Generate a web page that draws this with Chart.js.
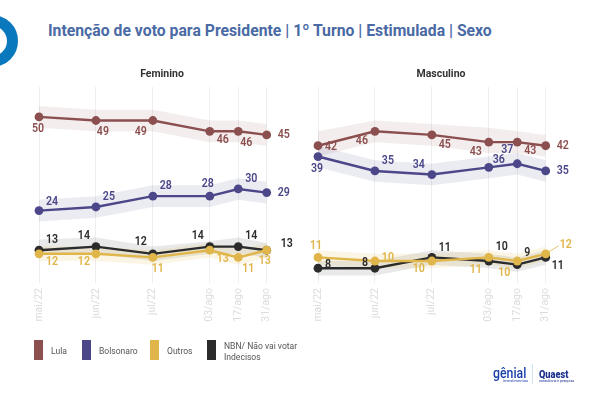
<!DOCTYPE html>
<html lang="pt-BR">
<head>
<meta charset="utf-8">
<title>Intenção de voto</title>
<script src="https://cdn.jsdelivr.net/npm/chart.js@4"></script>
<style>
  html, body { margin: 0; padding: 0; background: #fff; }
  body { position: relative; width: 600px; height: 400px; overflow: hidden; font-family: Roboto, sans-serif; }
  .abs { position: absolute; white-space: nowrap; transform-origin: left center; }
  canvas { position: absolute; }
  #ring { left: -34px; top: 15px; width: 30px; height: 30px; border: 11px solid #0a78bd; border-radius: 50%; }
  #title { left: 48px; top: 20px; font-size: 17px; line-height: 20px; font-weight: 700; color: #4a6aa5; transform: scaleX(0.927); }
  .swatch { position: absolute; top: 340px; width: 9px; height: 20px; }
  .legend { position: absolute; font-size: 9.5px; line-height: 11px; color: #555; white-space: nowrap; transform: scaleX(0.9); transform-origin: left center; }
</style>
</head>
<body>
<div id="ring" class="abs"></div>
<div id="title" class="abs">Intenção de voto para Presidente | 1º Turno | Estimulada | Sexo</div>
<canvas id="fem"></canvas>
<canvas id="mas"></canvas>
<div id="legendBox"></div>
<div class="abs" style="left:493px;top:365px;font-size:15px;line-height:16px;font-weight:500;color:#1d3fa8;transform:scaleX(0.82);">gênial</div>
<div class="abs" style="left:503px;top:378px;font-size:4px;line-height:5px;color:#1d3fa8;">investimentos</div>
<div class="abs" style="left:532px;top:364px;width:1px;height:20px;background:#cfe6f5;"></div>
<div class="abs" style="left:539px;top:366px;font-size:11.5px;line-height:16px;font-weight:900;color:#1b2f8f;transform:scaleX(0.8);">Quaest</div>
<div class="abs" style="left:539px;top:379px;font-size:3.5px;line-height:4px;color:#1b2f8f;">consultoria e pesquisa</div>

<script>
// ====== Data ======
const pollLabels = ["mai/22", "jun/22", "jul/22", "03/ago", "17/ago", "31/ago"];
const pollDays = [0, 28, 56, 84, 98, 112]; // days since the first poll

const seriesNames = ["Lula", "Bolsonaro", "Outros", "NBN/ Não vai votar\nIndecisos"];

// Feminino
const lulaFem = [50, 49, 49, 46, 46, 45];
const lulaFemHigh = [53, 52, 52, 49, 49, 48];
const lulaFemLow = [47, 46, 46, 43, 43, 42];
const bolsoFem = [24, 25, 28, 28, 30, 29];
const bolsoFemHigh = [27, 28, 31, 31, 33, 32];
const bolsoFemLow = [21, 22, 25, 25, 27, 26];
const outrosFem = [12, 12, 11, 13, 11, 13];
const outrosFemHigh = [14, 14, 13, 15, 13, 15];
const outrosFemLow = [10, 10, 9, 11, 9, 11];
const nbnFem = [13, 14, 12, 14, 14, 13];
const nbnFemHigh = [16, 16.5, 14, 15.5, 16.5, 15];
const nbnFemLow = [12, 12, 10, 12, 12, 11];

// Masculino
const lulaMas = [42, 46, 45, 43, 43, 42];
const lulaMasHigh = [46, 49, 48, 47, 46, 45];
const lulaMasLow = [39, 43, 42, 40, 40, 39];
const bolsoMas = [39, 35, 34, 36, 37, 35];
const bolsoMasHigh = [42, 38, 37, 39, 40, 38];
const bolsoMasLow = [36, 32, 31, 33, 34, 32];
const outrosMas = [11, 10, 10, 11, 10, 12];
const outrosMasHigh = [13, 12, 12, 13, 12, 14];
const outrosMasLow = [9, 8, 8, 9, 8, 10];
const nbnMas = [8, 8, 11, 10, 9, 11];
const nbnMasHigh = [10, 10, 13, 12, 11, 13];
const nbnMasLow = [6, 6, 9, 8, 7, 9];

// ====== Styles ======
const colors = { lula: "#8c4f4f", bolso: "#4b4789", outros: "#e0b64a", nbn: "#2b2b2b" };
const bands = {
  lula: "rgba(140,79,79,0.10)",
  bolso: "rgba(75,71,137,0.11)",
  outros: "rgba(224,182,74,0.14)",
  nbn: "rgba(40,40,40,0.10)"
};

// label offsets from each point, in pixels
const offsLulaFem = [[-1, 12], [7, 11], [-12, 11], [13, 9], [8, 12], [17, 0]];
const offsBolsoFem = [[13, -9], [13, -10], [13, -10], [-2, -12], [13, -10], [17, 0]];
const offsOutrosFem = [[13, 8], [-12, 8], [5, 11], [13, 9], [10, 11], [-2, 11]];
const offsNbnFem = [[13, -10], [-12, -11], [-12, -12], [-12, -11], [13, -11], [20, -6]];
const offsLulaMas = [[13, 1], [-13, 10], [13, 10], [-13, 10], [13, 9], [17, 0]];
const offsBolsoMas = [[-1, 12], [13, -10], [-13, -10], [10, -7], [-10, -14], [17, 0]];
const offsOutrosMas = [[-2, -12], [13, -3], [-13, 8], [-13, 12], [-13, 12], [20, -9]];
const offsNbnMas = [[10, -3], [-10, -5], [13, -10], [13, -14], [10, -12], [12, 8]];

// ====== Datasets ======
function bandSet(values, color, fill, order) {
  return {
    data: values.map((v, i) => ({ x: pollDays[i], y: v })),
    borderWidth: 0, pointRadius: 0, backgroundColor: color, fill: fill, order: order
  };
}

function lineSet(values, color, offs, order) {
  return {
    data: values.map((v, i) => ({ x: pollDays[i], y: v })),
    borderColor: color, backgroundColor: color, borderWidth: 2.4,
    pointRadius: 4.4, pointBackgroundColor: color, pointBorderWidth: 0,
    fill: false, tension: 0, order: order, labelOffsets: offs, clip: false
  };
}

// ====== Value labels ======
const valueLabels = {
  id: "valueLabels",
  afterDatasetsDraw(chart) {
    const ctx = chart.ctx;
    ctx.save();
    ctx.font = "600 12.5px Roboto";
    ctx.textAlign = "center";
    ctx.textBaseline = "middle";
    chart.data.datasets.forEach((ds, d) => {
      if (!ds.labelOffsets) return;
      ctx.fillStyle = ds.borderColor;
      chart.getDatasetMeta(d).data.forEach((pt, i) => {
        const text = String(ds.data[i].y);
        // the reference digits are condensed, so squeeze them a bit
        ctx.fillText(text, pt.x + ds.labelOffsets[i][0], pt.y + ds.labelOffsets[i][1], ctx.measureText(text).width * 0.85);
      });
      if (ds.leader) {
        const last = chart.getDatasetMeta(d).data[5];
        ctx.strokeStyle = ds.borderColor;
        ctx.lineWidth = 0.8;
        ctx.beginPath();
        ctx.moveTo(last.x + 3, last.y - 2);
        ctx.lineTo(last.x + 13, last.y - 8);
        ctx.stroke();
      }
    });
    ctx.restore();
  }
};

// ====== Render Chart ======
function renderPanel(canvasId, left, titleText, sets) {
  const canvas = document.getElementById(canvasId);
  canvas.style.left = left + "px";
  canvas.style.top = "60px";
  canvas.width = 300;
  canvas.height = 290;
  canvas.style.width = "300px";
  canvas.style.height = "290px";
  new Chart(canvas.getContext("2d"), {
    type: "line",
    data: { datasets: sets },
    options: {
      responsive: false,
      animation: false,
      layout: { padding: { left: 39, right: 15, top: 8.5, bottom: 0 } },
      plugins: {
        legend: { display: false },
        tooltip: { enabled: false },
        title: {
          display: true,
          text: titleText,
          color: "#333",
          font: { family: "Roboto", size: 10.5, weight: "700" },
          padding: { top: 0, bottom: 5.9 }
        }
      },
      scales: {
        x: {
          type: "linear",
          min: 0,
          max: 121,
          afterBuildTicks: s => { s.ticks = pollDays.map(v => ({ value: v })); },
          afterFit: s => { s.height = 67; },
          grid: { color: "#eeeeee", lineWidth: 1, drawTicks: false },
          border: { display: false },
          ticks: {
            autoSkip: false,
            minRotation: 90,
            maxRotation: 90,
            padding: 5,
            color: "#dcdcdc",
            font: { family: "Roboto", size: 10.5 },
            callback: v => pollLabels[pollDays.indexOf(v)]
          }
        },
        y: { display: false, min: 3.9, max: 58.3 }
      }
    },
    plugins: [valueLabels]
  });
}

const outrosMasLine = lineSet(outrosMas, colors.outros, offsOutrosMas, 1);
outrosMasLine.leader = true;

renderPanel("fem", 0, "Feminino", [
  bandSet(lulaFemHigh, bands.lula, "+1", 20), bandSet(lulaFemLow, bands.lula, false, 20),
  bandSet(bolsoFemHigh, bands.bolso, "+1", 19), bandSet(bolsoFemLow, bands.bolso, false, 19),
  bandSet(nbnFemHigh, bands.nbn, "+1", 18), bandSet(nbnFemLow, bands.nbn, false, 18),
  bandSet(outrosFemHigh, bands.outros, "+1", 17), bandSet(outrosFemLow, bands.outros, false, 17),
  lineSet(lulaFem, colors.lula, offsLulaFem, 4),
  lineSet(bolsoFem, colors.bolso, offsBolsoFem, 3),
  lineSet(nbnFem, colors.nbn, offsNbnFem, 2),
  lineSet(outrosFem, colors.outros, offsOutrosFem, 1)
]);

renderPanel("mas", 279, "Masculino", [
  bandSet(lulaMasHigh, bands.lula, "+1", 20), bandSet(lulaMasLow, bands.lula, false, 20),
  bandSet(bolsoMasHigh, bands.bolso, "+1", 19), bandSet(bolsoMasLow, bands.bolso, false, 19),
  bandSet(nbnMasHigh, bands.nbn, "+1", 18), bandSet(nbnMasLow, bands.nbn, false, 18),
  bandSet(outrosMasHigh, bands.outros, "+1", 17), bandSet(outrosMasLow, bands.outros, false, 17),
  lineSet(lulaMas, colors.lula, offsLulaMas, 4),
  lineSet(bolsoMas, colors.bolso, offsBolsoMas, 3),
  lineSet(nbnMas, colors.nbn, offsNbnMas, 2),
  outrosMasLine
]);

// ====== Legend ======
const legendSwatchX = [34, 82, 150, 207];
const legendColors = [colors.lula, colors.bolso, colors.outros, colors.nbn];
document.getElementById("legendBox").innerHTML = seriesNames.map((name, i) => {
  const top = name.includes("\n") ? 340 : 345;
  return `<div class="swatch" style="left:${legendSwatchX[i]}px;background:${legendColors[i]}"></div>
    <div class="legend" style="left:${legendSwatchX[i] + 17}px;top:${top}px">${name.replace("\n", "<br>")}</div>`;
}).join("");
</script>
</body>
</html>
